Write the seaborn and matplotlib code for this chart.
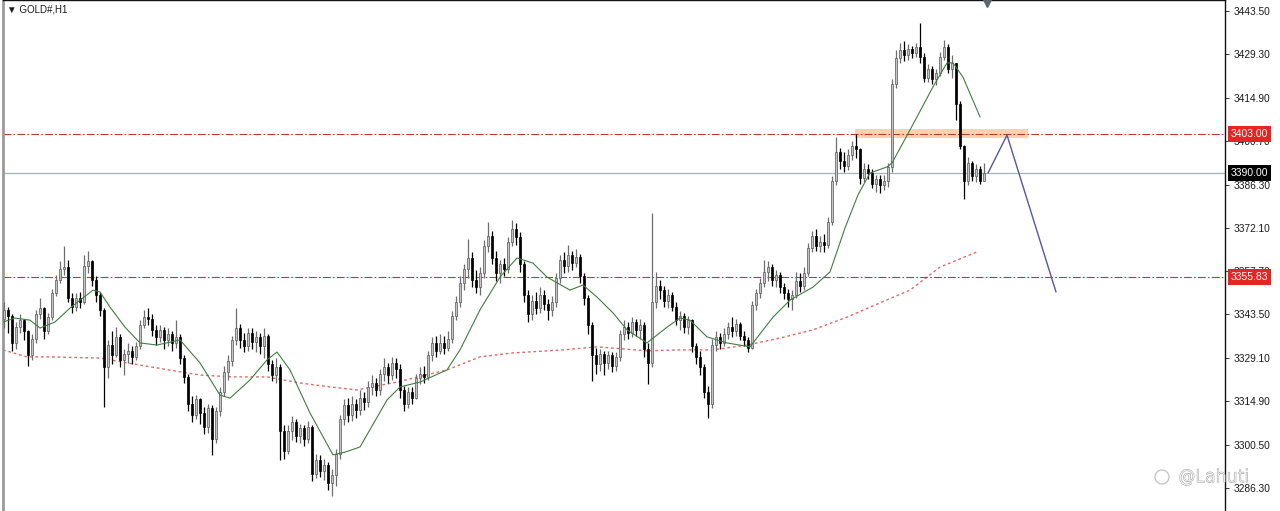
import matplotlib
matplotlib.use("Agg")
from matplotlib import pyplot as plt
from matplotlib import patheffects
from matplotlib.patches import Ellipse
import matplotlib.transforms as mtransforms
import seaborn as sns
import numpy as np
import pandas as pd

# ---- data (GOLD#, H1) ----
symbol_label = "▼ GOLD#,H1"
first_open = 3342.0

closes = [
    3345.0, 3343.0, 3334.0, 3339.5, 3341.5, 3338.0, 3330.0, 3335.5, 3343.5, 3345.5,
    3338.0, 3342.5, 3350.5, 3355.0, 3358.5, 3359.0, 3349.0, 3346.0, 3349.0, 3347.5,
    3359.5, 3361.0, 3355.0, 3350.0, 3345.0, 3326.0, 3333.5, 3330.0, 3336.0, 3328.5,
    3330.5, 3331.5, 3329.5, 3333.0, 3340.0, 3342.5, 3342.0, 3338.5, 3336.0, 3338.5,
    3335.0, 3337.0, 3334.0, 3336.0, 3329.0, 3323.0, 3314.0, 3310.5, 3315.5, 3311.0,
    3306.5, 3312.5, 3302.5, 3311.5, 3318.0, 3324.5, 3328.0, 3335.0, 3339.0, 3335.0,
    3333.0, 3337.5, 3334.5, 3336.0, 3333.0, 3336.5, 3327.0, 3323.5, 3326.0, 3305.0,
    3298.5, 3305.0, 3308.0, 3303.5, 3306.0, 3302.5, 3306.5, 3291.0, 3295.5, 3292.0,
    3294.0, 3288.0, 3290.5, 3297.5, 3309.0, 3313.5, 3310.5, 3314.0, 3312.0, 3316.0,
    3314.5, 3319.5, 3321.0, 3318.5, 3324.0, 3326.0, 3323.5, 3327.5, 3325.5, 3318.5,
    3314.0, 3318.0, 3316.0, 3322.5, 3324.0, 3323.0, 3330.0, 3334.0, 3331.5, 3334.0,
    3332.5, 3335.5, 3343.0, 3347.5, 3354.0, 3358.5, 3362.0, 3355.0, 3352.5, 3357.0,
    3366.0, 3369.5, 3362.0, 3357.0, 3360.0, 3358.5, 3367.5, 3371.5, 3369.0, 3360.0,
    3350.0, 3343.5, 3348.0, 3345.5, 3350.0, 3347.0, 3345.0, 3347.5, 3355.5, 3361.5,
    3359.5, 3363.0, 3360.5, 3362.5, 3356.0, 3349.0, 3340.0, 3330.0, 3327.0, 3330.5,
    3327.5, 3330.0, 3326.5, 3329.5, 3337.0, 3339.5, 3337.5, 3341.0, 3338.5, 3340.0,
    3332.0, 3327.5, 3347.5, 3353.0, 3351.5, 3348.0, 3350.0, 3346.0, 3341.5, 3343.0,
    3339.5, 3341.5, 3333.0, 3329.5, 3326.0, 3318.0, 3314.0, 3333.5, 3336.0, 3334.0,
    3337.0, 3339.5, 3338.0, 3340.5, 3336.5, 3335.0, 3332.5, 3346.5, 3350.5, 3354.0,
    3357.5, 3359.0, 3355.0, 3356.5, 3352.5, 3350.5, 3348.5, 3350.0, 3354.5, 3353.0,
    3357.0, 3365.5, 3369.5, 3366.0, 3367.5, 3366.5, 3374.0, 3387.5, 3397.0, 3394.0,
    3392.5, 3396.0, 3399.0, 3398.0, 3388.5, 3391.5, 3390.0, 3386.5, 3388.0, 3386.0,
    3387.5, 3392.0, 3419.5, 3428.0, 3430.5, 3429.0, 3431.0, 3429.5, 3431.5, 3428.5,
    3421.5, 3424.5, 3421.0, 3423.0, 3428.5, 3431.5, 3424.5, 3426.5, 3413.0, 3399.0,
    3387.5, 3393.5, 3389.0, 3391.5, 3387.5, 3390.0,
]

highs = [
    3347.5, 3346.0, 3343.5, 3341.0, 3343.5, 3342.0, 3338.5, 3337.0, 3345.0, 3349.0,
    3346.0, 3344.0, 3352.0, 3356.5, 3361.0, 3366.0, 3361.5, 3350.5, 3350.5, 3351.0,
    3363.0, 3364.5, 3361.5, 3356.0, 3351.0, 3345.5, 3335.0, 3338.0, 3339.5, 3337.0,
    3332.0, 3334.0, 3333.0, 3334.5, 3341.5, 3345.0, 3345.5, 3343.5, 3340.0, 3340.0,
    3339.5, 3339.0, 3338.0, 3341.5, 3337.0, 3330.0, 3324.0, 3316.5, 3317.0, 3316.0,
    3313.0, 3314.0, 3313.5, 3313.0, 3319.5, 3326.5, 3330.0, 3336.5, 3345.5, 3340.5,
    3337.5, 3339.0, 3339.0, 3338.0, 3337.5, 3339.0, 3337.0, 3328.5, 3329.0, 3327.0,
    3307.0, 3307.0, 3310.0, 3309.0, 3307.5, 3307.0, 3308.5, 3307.0, 3297.5, 3297.0,
    3296.0, 3295.0, 3292.5, 3299.0, 3310.5, 3315.5, 3316.0, 3316.5, 3315.5, 3318.5,
    3318.0, 3321.5, 3323.5, 3322.5, 3325.5, 3329.0, 3327.5, 3329.5, 3329.0, 3327.0,
    3320.0, 3319.5, 3319.5, 3324.0, 3326.0, 3326.5, 3331.5, 3336.0, 3336.5, 3337.0,
    3336.5, 3338.0, 3344.5, 3349.5, 3356.0, 3360.0, 3368.5, 3364.0, 3358.0, 3359.0,
    3368.0, 3374.0, 3371.0, 3364.5, 3361.5, 3362.0, 3369.0, 3374.5, 3373.5, 3370.5,
    3361.0, 3351.5, 3350.0, 3351.0, 3352.5, 3351.5, 3348.5, 3349.5, 3357.0, 3363.0,
    3364.0, 3366.5, 3364.5, 3365.0, 3363.5, 3357.0, 3350.0, 3341.0, 3332.5, 3332.0,
    3331.5, 3331.5, 3331.0, 3331.0, 3338.5, 3341.5, 3341.0, 3342.5, 3342.0, 3342.0,
    3341.0, 3334.0, 3377.0, 3357.5, 3355.0, 3353.0, 3352.0, 3351.0, 3347.5, 3344.5,
    3344.0, 3343.0, 3342.0, 3334.0, 3331.5, 3327.0, 3320.0, 3335.5, 3338.0, 3337.5,
    3339.0, 3341.0, 3342.5, 3342.0, 3341.0, 3338.0, 3336.0, 3348.0, 3352.0, 3355.5,
    3361.5, 3361.0, 3360.0, 3358.0, 3357.5, 3354.0, 3352.0, 3351.5, 3357.5, 3357.0,
    3359.0, 3367.0, 3371.0, 3371.5, 3369.5, 3370.0, 3375.5, 3389.0, 3402.0, 3398.5,
    3397.0, 3398.0, 3400.5, 3403.0, 3398.5, 3393.5, 3393.0, 3391.5, 3389.5, 3389.5,
    3389.5, 3393.5, 3421.0, 3430.5, 3433.0, 3433.5, 3432.5, 3432.0, 3433.0, 3439.5,
    3429.5, 3426.0, 3425.5, 3424.5, 3430.0, 3434.0, 3432.5, 3429.0, 3426.0, 3414.0,
    3399.5, 3395.5, 3394.0, 3393.0, 3392.5, 3393.5,
]

lows = [
    3339.0, 3337.5, 3331.5, 3332.0, 3337.5, 3335.0, 3326.5, 3328.5, 3334.0, 3342.0,
    3335.5, 3337.0, 3341.5, 3349.5, 3354.0, 3356.5, 3347.5, 3344.0, 3344.5, 3345.5,
    3347.0, 3357.0, 3353.0, 3347.5, 3343.0, 3313.0, 3322.5, 3327.0, 3329.5, 3326.0,
    3323.5, 3327.5, 3327.0, 3328.5, 3332.0, 3339.0, 3340.0, 3336.5, 3333.5, 3334.5,
    3332.0, 3333.0, 3331.5, 3332.5, 3327.0, 3321.0, 3311.5, 3308.0, 3309.0, 3307.5,
    3304.0, 3304.5, 3297.0, 3301.0, 3310.0, 3316.5, 3322.0, 3326.5, 3333.5, 3332.5,
    3331.0, 3331.5, 3332.0, 3331.0, 3330.5, 3329.0, 3325.0, 3321.5, 3321.0, 3295.5,
    3296.0, 3297.5, 3302.0, 3301.5, 3301.0, 3300.0, 3301.0, 3288.5, 3289.5, 3290.0,
    3289.0, 3285.5, 3283.5, 3287.0, 3296.0, 3307.0, 3308.0, 3308.5, 3309.5, 3310.5,
    3312.0, 3313.0, 3317.0, 3316.5, 3317.0, 3321.5, 3321.0, 3322.0, 3322.5, 3316.0,
    3311.5, 3312.5, 3314.0, 3315.5, 3320.5, 3321.0, 3322.0, 3328.0, 3329.5, 3330.5,
    3330.5, 3331.5, 3334.0, 3341.5, 3346.0, 3351.5, 3355.5, 3352.5, 3350.5, 3350.0,
    3355.5, 3364.0, 3360.0, 3354.5, 3354.0, 3356.0, 3357.0, 3366.0, 3366.5, 3357.5,
    3347.5, 3341.0, 3341.5, 3343.5, 3344.0, 3345.0, 3341.5, 3343.0, 3346.0, 3354.0,
    3357.0, 3357.5, 3358.0, 3359.0, 3354.0, 3346.5, 3337.0, 3321.5, 3324.0, 3325.0,
    3323.5, 3325.5, 3324.5, 3325.0, 3328.0, 3335.0, 3335.5, 3336.0, 3336.5, 3335.5,
    3329.5, 3320.5, 3326.0, 3345.5, 3348.5, 3346.0, 3345.5, 3344.5, 3340.0, 3338.5,
    3337.5, 3337.0, 3331.0, 3327.0, 3323.5, 3316.0, 3309.5, 3312.5, 3331.5, 3332.0,
    3333.0, 3335.5, 3336.0, 3336.5, 3335.0, 3333.0, 3331.0, 3332.0, 3345.0, 3349.0,
    3352.5, 3354.5, 3353.0, 3352.5, 3350.5, 3348.5, 3346.0, 3345.0, 3349.0, 3351.0,
    3351.5, 3356.0, 3364.0, 3364.5, 3364.0, 3364.0, 3365.5, 3373.0, 3386.0, 3391.5,
    3390.5, 3391.0, 3394.5, 3395.0, 3386.5, 3387.0, 3388.0, 3385.0, 3384.0, 3383.5,
    3384.5, 3385.5, 3390.5, 3418.0, 3426.5, 3427.0, 3427.5, 3428.0, 3428.5, 3426.5,
    3420.0, 3420.0, 3419.5, 3419.0, 3422.0, 3427.5, 3423.0, 3421.5, 3407.5, 3398.0,
    3381.5, 3386.0, 3387.5, 3387.0, 3386.5, 3388.0,
]

# green moving average (bar index, price)
ma_fast_idx = [-0.25, 2.75, 6.5, 9, 12.75, 16.5, 22.25, 24, 26.5, 30.25, 34, 38.25, 44, 49,
               54, 56.5, 61.5, 65.75, 68.25, 71.5, 76.5, 82.25, 85.25, 89, 95.75, 99, 104,
               110.75, 114, 119, 124, 128.25, 132.25, 135.75, 141.5, 144.75, 148.25, 152.25,
               155.75, 160.75, 165.75, 169, 171.5, 175.75, 180.75, 186.5, 192.25, 196.5,
               202.25, 206.5, 210.25, 213.5, 216.5, 220.75, 222, 226.5, 232.25, 235.75,
               237.25, 239.75, 244]
ma_fast_val = [3341.0, 3342.3, 3341.6, 3339.0, 3341.0, 3345.6, 3351.5, 3350.9, 3345.9, 3339.3,
               3334.1, 3333.4, 3335.1, 3327.5, 3316.9, 3315.9, 3321.9, 3328.5, 3331.1, 3325.2,
               3311.0, 3297.2, 3298.1, 3299.8, 3315.3, 3319.6, 3321.2, 3325.2, 3331.8, 3345.0,
               3355.8, 3362.1, 3360.4, 3355.8, 3351.5, 3353.2, 3349.2, 3344.0, 3338.4, 3334.1,
               3339.3, 3342.3, 3341.6, 3336.1, 3334.1, 3332.8, 3342.6, 3348.2, 3352.5, 3357.5,
               3372.0, 3382.9, 3390.1, 3392.1, 3393.4, 3404.3, 3418.5, 3426.4, 3426.4, 3421.7,
               3408.6]

# red dotted slow moving average
ma_slow_idx = [-0.25, 5.75, 11.5, 24, 34, 49, 57.25, 65.75, 74, 81.5, 88.25, 98.25, 110.75,
               119, 127.25, 139.75, 148.25, 160.75, 169, 177.25, 185.75, 194, 202.25, 210.75,
               219, 226.5, 234, 243.25]
ma_slow_val = [3331.8, 3329.5, 3329.5, 3329.1, 3326.8, 3323.5, 3322.9, 3322.9, 3320.9, 3319.6,
               3318.6, 3321.2, 3325.2, 3329.5, 3330.8, 3331.8, 3332.8, 3331.5, 3331.8, 3331.8,
               3333.4, 3335.7, 3338.4, 3342.6, 3347.3, 3351.5, 3359.1, 3364.1]

# drawn levels and projection
level_upper = 3403.00
level_lower = 3355.83
bid_price = 3390.00
zone_start, zone_end = 212.75, 256.0
zone_low, zone_high = 3401.6, 3404.6
proj_idx = [246.0, 250.75, 263.0]
proj_val = [3390.1, 3402.6, 3350.9]

price_ticks = [3443.50, 3429.30, 3414.90, 3400.70, 3386.30, 3372.10,
               3357.70, 3343.50, 3329.10, 3314.90, 3300.50, 3286.30]
watermark = "@Lahuti"

# ---- figure ----
sns.set_style("white")
plt.rcParams['font.family'] = ['Liberation Sans', 'DejaVu Sans']

fig = plt.figure(figsize=(12.8, 5.11), dpi=100)
ax = fig.add_axes([3 / 1280, 0, 1222 / 1280, 1])

closes = np.array(closes)
highs = np.array(highs)
lows = np.array(lows)
assert len(closes) == len(highs) == len(lows)
opens = np.r_[first_open, closes[:-1]]
highs = np.maximum(highs, np.maximum(opens, closes))
lows = np.minimum(lows, np.minimum(opens, closes))
idx = np.arange(len(closes))
up = closes >= opens

# candles
ax.vlines(idx[up], lows[up], highs[up], color='#6e6e6e', lw=0.9, zorder=3)
ax.vlines(idx[~up], lows[~up], highs[~up], color='#000000', lw=0.9, zorder=3)
body_bottom = np.minimum(opens, closes)
body_h = np.maximum(np.abs(closes - opens), 0.3)
ax.bar(idx[up], body_h[up], bottom=body_bottom[up], width=0.7,
       color='#c4c4c4', edgecolor='#5a5a5a', lw=0.5, zorder=4)
ax.bar(idx[~up], body_h[~up], bottom=body_bottom[~up], width=0.7,
       color='#000000', edgecolor='#000000', lw=0.5, zorder=4)

# moving averages
sns.lineplot(x=ma_fast_idx, y=ma_fast_val, ax=ax, color='#3f7f3f', lw=0.8,
             sort=False, zorder=5)
sns.lineplot(x=ma_slow_idx, y=ma_slow_val, ax=ax, color='#e06a6a', lw=1.0,
             linestyle=(0, (2, 2)), sort=False, zorder=2)

# levels
ax.fill_between([zone_start, zone_end], zone_low, zone_high, color='#fcc9a2',
                alpha=0.85, lw=0, zorder=1)
ax.axhline(level_upper, color='#c0392f', lw=0.8, linestyle=(0, (7, 2, 1.5, 2)), zorder=2)
ax.axhline(level_lower, color='#c0392f', lw=0.8, linestyle=(0, (7, 2, 1.5, 2)), zorder=2)
ax.axhline(bid_price, color='#a3b3ba', lw=0.9, zorder=1)

# projection
sns.lineplot(x=proj_idx, y=proj_val, ax=ax, color='#5656a8', lw=1.0, sort=False, zorder=5)

# axes
ax.set_xlim(-0.25, 305.25)
ax.set_ylim(3278.7, 3447.13)
ax.set_xticks([])
ax.yaxis.tick_right()
ax.set_yticks(price_ticks)
ax.set_yticklabels([f"{t:.2f}" for t in price_ticks])
ax.tick_params(axis='y', direction='out', length=3, width=0.6, pad=3,
               labelsize=7.3, colors='#1a1a1a', right=True, left=False)
ax.set_xlabel("")
ax.set_ylabel("")
for side in ['top', 'right']:
    ax.spines[side].set_color('#111111')
    ax.spines[side].set_linewidth(1.0)
ax.spines['left'].set_color('#9a9a9a')
ax.spines['left'].set_linewidth(2.0)
ax.spines['bottom'].set_visible(False)

# price tags on the scale
tag_tr = mtransforms.blended_transform_factory(ax.transAxes, ax.transData)
for price, face in [(level_upper, '#e52521'), (level_lower, '#e52521'), (bid_price, '#000000')]:
    ax.text(1.0045, price, f"{price:.2f}", transform=tag_tr, fontsize=7.5, color='white',
            va='center', ha='left', clip_on=False, zorder=10,
            bbox=dict(boxstyle='square,pad=0.28', facecolor=face, edgecolor='none'))

# chart-shift marker at top
top_tr = mtransforms.blended_transform_factory(ax.transData, ax.transAxes)
ax.plot([245.75], [1.0], marker='v', ms=10, color='#5d6670', transform=top_tr,
        clip_on=True, zorder=10)

# symbol label
fig.text(7 / 1280, 1 - 9 / 511, symbol_label, fontsize=7, color='#1a1a1a',
         va='center', ha='left')

# watermark
wm = fig.text(1178 / 1280, 34 / 511, watermark, fontsize=12.5, color='white',
              va='center', ha='left', family=['DejaVu Sans'], fontweight='light')
wm.set_path_effects([patheffects.withStroke(linewidth=1.0, foreground='#b5b5b5')])
fig.add_artist(Ellipse((1162 / 1280, 34 / 511), 14 / 1280, 14 / 511, transform=fig.transFigure,
                       facecolor='none', edgecolor='#c8c8c8', lw=1.0))

fig.savefig("out.png", dpi=100)
